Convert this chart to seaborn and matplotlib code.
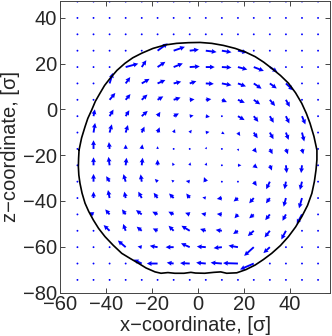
import matplotlib
matplotlib.use('Agg')
import matplotlib.pyplot as plt
import numpy as np
import seaborn as sns

# grid of sample points (columns in x, rows in z, bottom to top)
x_grid = [-52.4, -45.4, -38.4, -31.4, -24.4, -17.5, -10.5, -3.5,
          3.5, 10.5, 17.5, 24.4, 31.4, 38.4, 45.4, 52.4]
z_grid = [-74.5, -67.35, -60.2, -53.05, -45.9, -38.75, -31.6, -24.45, -17.3,
          -10.15, -3.0, 4.15, 11.3, 18.45, 25.6, 32.75, 39.9, 47.05]

# velocity components, rows listed top (z=47) to bottom (z=-74.5)
z0 = [0] * 16
u_rows = [
    z0, z0, z0,
    [0, 0, 0, 0, 0, 4.4, 4.9, 4.0, 4.7, 4.2, 4.0, 0, 0, 0, 0, 0],
    [0, 0, 0, 5.5, 2.0, 3.4, 4.0, 4.4, 3.9, 4.2, 4.1, 4.4, 3.3, 0, 0, 0],
    [0, 0, 1.4, 2.0, 3.4, 3.4, 3.3, 2.9, 3.5, 4.2, 3.5, 3.4, 3.0, 3.2, 0, 0],
    [0, 0, 2.5, 2.1, 2.5, 2.5, 3.0, 2.1, 2.4, 2.2, 3.0, 2.8, 2.3, 1.7, 0, 0],
    [0, 0.6, 1.7, 1.6, 2.6, 1.2, 2.3, 1.7, 1.8, 0.8, 2.9, 2.0, 1.7, 1.5, 1.5, 0],
    [0, 0.7, 1.0, 1.0, 1.2, 0.9, 0.6, 0.9, 1.6, 1.2, 1.0, 1.7, 1.6, 1.2, 1.0, 0],
    [0, 0.0, -0.3, 0.0, 0.3, 0.0, 0.3, 0.6, 0.4, 0.1, 0.3, 1.3, 1.2, 0.9, 0.6, 0],
    [0, 0.0, -0.5, 0.4, 0.4, 0.0, -0.6, 0.3, 0.4, 0.0, 1.5, 1.7, 0.9, 0.4, -0.4, 0],
    [0, 0.0, -1.5, -1.0, -0.5, -1.2, -1.0, -1.7, -0.8, 0.0, 0.3, 1.3, -1.6, -0.6, -0.9, 0],
    [0, 0.0, -0.7, -0.6, -1.5, -1.7, -2.0, -1.5, -1.5, -2.2, -1.9, -2.0, -1.7, -1.0, -1.3, 0],
    [0, -2.0, -1.9, -1.6, -2.5, -2.3, -2.3, -2.0, -2.0, -2.2, -1.5, -2.0, -2.0, -1.5, -2.3, 0],
    [0, 0, -2.6, -1.1, -2.2, -2.1, -2.2, -3.6, -2.5, -2.7, -2.1, -2.6, -2.3, -2.0, 0, 0],
    [0, 0, 0, -3.4, -1.8, -3.4, -3.5, -3.8, -3.9, -3.6, -4.1, -4.2, -2.8, 0, 0, 0],
    [0, 0, 0, 0, -3.5, -4.7, -3.0, -4.2, -4.2, -4.9, -6.5, -6.0, 0, 0, 0, 0],
    z0,
]
v_rows = [
    z0, z0, z0,
    [0, 0, 0, 0, 0, 3.2, 1.7, 0.5, -0.6, -0.7, -0.8, 0, 0, 0, 0, 0],
    [0, 0, 0, 1.5, 3.0, 2.3, 1.6, 0.3, 0.0, -0.2, -1.1, -1.7, -2.2, 0, 0, 0],
    [0, 0, 4.6, 2.8, 2.0, 1.5, 0.8, 1.0, -0.2, -0.8, -1.3, -2.3, -2.2, -3.0, 0, 0],
    [0, 0, 3.0, 2.5, 2.3, 1.5, 1.0, 0.2, 0.3, -1.0, -1.3, -2.0, -2.7, -3.1, 0, 0],
    [0, 3.0, 2.9, 2.6, 2.3, 1.9, 1.2, 0.3, -0.3, -0.4, -1.7, -2.5, -2.9, -3.2, -3.6, 0],
    [0, 4.2, 3.6, 3.3, 2.6, 2.3, 1.5, 1.2, 0.3, -0.7, -1.5, -2.5, -2.9, -3.2, -3.9, 0],
    [0, 3.8, 3.0, 1.9, 2.0, 1.2, 0.6, 0.6, 0.9, 0.0, -1.0, -1.7, -2.3, -2.3, -2.3, 0],
    [0, 3.5, 3.7, 3.3, 3.3, 2.5, 1.2, 1.3, 1.2, 0.2, 0.0, -1.3, -2.3, -3.4, -3.4, 0],
    [0, 3.4, 2.4, 3.3, 3.2, 1.2, 0.8, 0.3, 2.0, 0.3, -0.5, -1.9, -3.3, -3.3, -3.6, 0],
    [0, 2.8, 3.5, 2.8, 2.8, 2.3, 2.0, 2.0, 0.3, -0.4, -1.5, -2.3, -2.3, -3.8, -4.5, 0],
    [0, 0.9, 2.2, 2.2, 1.9, 1.2, 1.2, 0.7, 0.4, 0.2, -1.7, -1.7, -2.5, -2.8, -4.2, 0],
    [0, 0, 2.5, 3.0, 1.8, 1.0, 2.2, 2.2, 0.8, 0.4, -1.4, -2.3, -2.9, -3.8, 0, 0],
    [0, 0, 0, 2.9, 0.3, 0.6, 0.0, 1.7, 0.3, -0.4, 0.7, -3.8, -2.6, 0, 0, 0],
    [0, 0, 0, 0, 1.7, 0.0, 0.4, 0.2, 0.4, 0.4, 0.2, -2.6, 0, 0, 0, 0],
    z0,
]

# droplet boundary (closed curve, clockwise from the left)
bnd_x = [-51.7, -50.6, -49.1, -47.9, -46.2, -44.6, -42.6, -40.6, -38.2, -35.2,
         -31.7, -28.3, -24.4, -19.5, -14.2, -9.2, -4.1, 1.0, 6.1, 11.2,
         16.3, 20.8, 25.0, 28.7, 32.2, 36.0, 39.5, 42.6, 45.3, 47.3,
         48.9, 50.6, 51.9, 51.9, 51.5, 50.8, 49.7, 47.8, 45.3, 42.6,
         39.5, 36.0, 32.2, 28.6, 25.0, 21.0, 17.0, 12.6, 10.0, 7.0,
         3.0, -1.0, -3.0, -6.0, -10.0, -13.0, -16.0, -18.6, -22.5, -25.9,
         -29.5, -33.1, -36.8, -40.4, -43.2, -45.5, -47.5, -49.1, -50.4, -51.3,
         -51.8, -52.0, -51.9, -51.7]
bnd_z = [-17.8, -12.5, -7.6, -4.0, -0.3, 3.5, 7.0, 10.4, 13.5, 17.0,
         20.1, 22.5, 24.5, 26.6, 28.1, 28.8, 29.1, 29.2, 28.8, 27.9,
         26.6, 25.0, 23.0, 20.6, 17.9, 14.8, 11.4, 7.2, 2.6, -1.8,
         -6.1, -11.8, -17.8, -22.0, -26.5, -31.5, -36.7, -42.0, -46.9, -51.4,
         -55.6, -59.5, -62.9, -65.6, -68.0, -70.0, -71.4, -71.6, -71.0, -71.2,
         -71.6, -71.5, -71.2, -71.6, -71.6, -71.3, -71.6, -71.0, -69.3, -67.2,
         -65.1, -62.9, -59.4, -55.6, -52.0, -48.3, -44.6, -41.0, -36.6, -32.3,
         -28.7, -25.1, -21.4, -17.8]

X, Z = np.meshgrid(x_grid, z_grid)
U = np.array(u_rows[::-1])
V = np.array(v_rows[::-1])

sns.set_style('ticks')
plt.rcParams['font.family'] = ['Liberation Sans', 'DejaVu Sans']
plt.rcParams['font.size'] = 14.5

fig = plt.figure(figsize=(3.32, 3.36), dpi=100)
ax = fig.add_axes([60 / 332, 43.5 / 336, 270 / 332, 291.5 / 336])

ax.quiver(X, Z, U, V, angles='xy', scale_units='xy', scale=1, color='blue',
          width=0.007, headwidth=2.6, headlength=2.6, headaxislength=2.4,
          minlength=1.1)
sns.lineplot(x=bnd_x, y=bnd_z, sort=False, estimator=None, color='black',
             lw=1.2, ax=ax)

ax.set_xlim(-60, 57.6)
ax.set_ylim(-80, 47.3)
ax.set_xticks([-60, -40, -20, 0, 20, 40])
ax.set_yticks([-80, -60, -40, -20, 0, 20, 40])
ax.tick_params(direction='in', top=True, right=True, length=3.5, width=0.6,
               labelsize=14.5, pad=2)
for s in ax.spines.values():
    s.set_linewidth(0.7)
    s.set_color('#444444')
ax.set_xlabel('x\u2212coordinate, [\u03c3]', fontsize=14.5, labelpad=1)
ax.set_ylabel('z\u2212coordinate, [\u03c3]', fontsize=14.5, labelpad=2)

fig.savefig('out.png', dpi=100)
